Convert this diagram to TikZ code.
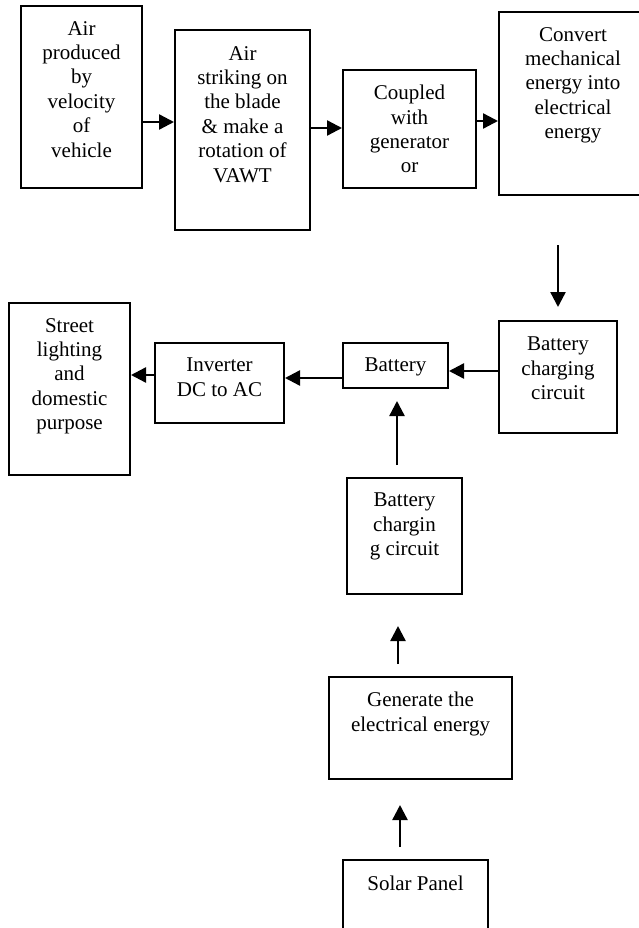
\documentclass[tikz,border=0pt]{standalone}
\usepackage{fontspec}
\setmainfont{Liberation Serif}
\usetikzlibrary{arrows.meta}
\begin{document}
\begin{tikzpicture}[x=1pt,y=-1pt,
  box/.style={draw, line width=2pt, inner sep=0pt, anchor=north west},
  txt/.style={align=center, inner sep=0pt, anchor=north, font=\fontsize{21}{24.4}\selectfont},
  arr/.style={line width=2.4pt, -{Triangle[length=15pt,width=15pt]}}]
\useasboundingbox (0,0) rectangle (638,928);
% boxes
\node[box, minimum width=121pt, minimum height=182pt] (b1) at (20,5) {};
\node[box, minimum width=135pt, minimum height=200pt] (b2) at (174,29) {};
\node[box, minimum width=133pt, minimum height=118pt] (b3) at (342,69) {};
\node[box, minimum width=148pt, minimum height=183pt] (b4) at (498,11) {};
\node[box, minimum width=118pt, minimum height=112pt] (b5) at (498,320) {};
\node[box, minimum width=105pt, minimum height=45pt] (bat) at (342,342) {};
\node[box, minimum width=129pt, minimum height=80pt] (inv) at (154,342) {};
\node[box, minimum width=121pt, minimum height=172pt] (st) at (8,302) {};
\node[box, minimum width=115pt, minimum height=116pt] (b9) at (346,477) {};
\node[box, minimum width=183pt, minimum height=102pt] (b10) at (328,676) {};
\node[box, minimum width=145pt, minimum height=80pt] (sol) at (342,859) {};
% texts
\node[txt] (t1) at ([yshift=-16pt]b1.north) {Air\\produced\\by\\velocity\\of\\vehicle};
\node[txt] (t2) at ([yshift=-17pt]b2.north) {Air\\striking on\\the blade\\\& make a\\rotation of\\VAWT};
\node[txt] (t3) at ([yshift=-16pt]b3.north) {Coupled\\with\\generator\\or};
\node[txt] (t4) at ([yshift=-16pt]b4.north) {Convert\\mechanical\\energy into\\electrical\\energy};
\node[txt] (t5) at ([yshift=-17pt]b5.north) {Battery\\charging\\circuit};
\node[txt] (tbat) at ([yshift=-16pt]bat.north) {Battery};
\node[txt] (tinv) at ([yshift=-16pt]inv.north) {Inverter\\DC to AC};
\node[txt] (tst) at ([yshift=-16pt]st.north) {Street\\lighting\\and\\domestic\\purpose};
\node[txt] (t9) at ([yshift=-16pt]b9.north) {Battery\\chargin\\g circuit};
\node[txt] (t10) at ([yshift=-16pt]b10.north) {Generate the\\electrical energy};
\node[txt] (tsol) at ([yshift=-17pt]sol.north) {Solar Panel};
% helper coordinates
\coordinate (y1) at (0,122);
\coordinate (y2) at (0,128);
\coordinate (y3) at (0,121);
\coordinate (y4) at (0,371);
\coordinate (y5) at (0,378);
\coordinate (y6) at (0,375);
\coordinate (x1) at (558,0);
\coordinate (x2) at (397,0);
\coordinate (x3) at (398,0);
\coordinate (x4) at (400,0);
% connectors
\draw[arr] (b1.east |- y1) -- (b2.west |- y1);
\draw[arr] (b2.east |- y2) -- (b3.west |- y2);
\draw[arr] (b3.east |- y3) -- (b4.west |- y3);
\draw[arr, shorten <=49pt, shorten >=13pt] (b4.south -| x1) -- (b5.north -| x1);
\draw[arr] (b5.west |- y4) -- (bat.east |- y4);
\draw[arr] (bat.west |- y5) -- (inv.east |- y5);
\draw[arr] (inv.west |- y6) -- (st.east |- y6);
\draw[arr, shorten <=12pt, shorten >=12pt] (b9.north -| x2) -- (bat.south -| x2);
\draw[arr, shorten <=12pt, shorten >=31pt] (b10.north -| x3) -- (b9.south -| x3);
\draw[arr, shorten <=12pt, shorten >=25pt] (sol.north -| x4) -- (b10.south -| x4);
\end{tikzpicture}
\end{document}
